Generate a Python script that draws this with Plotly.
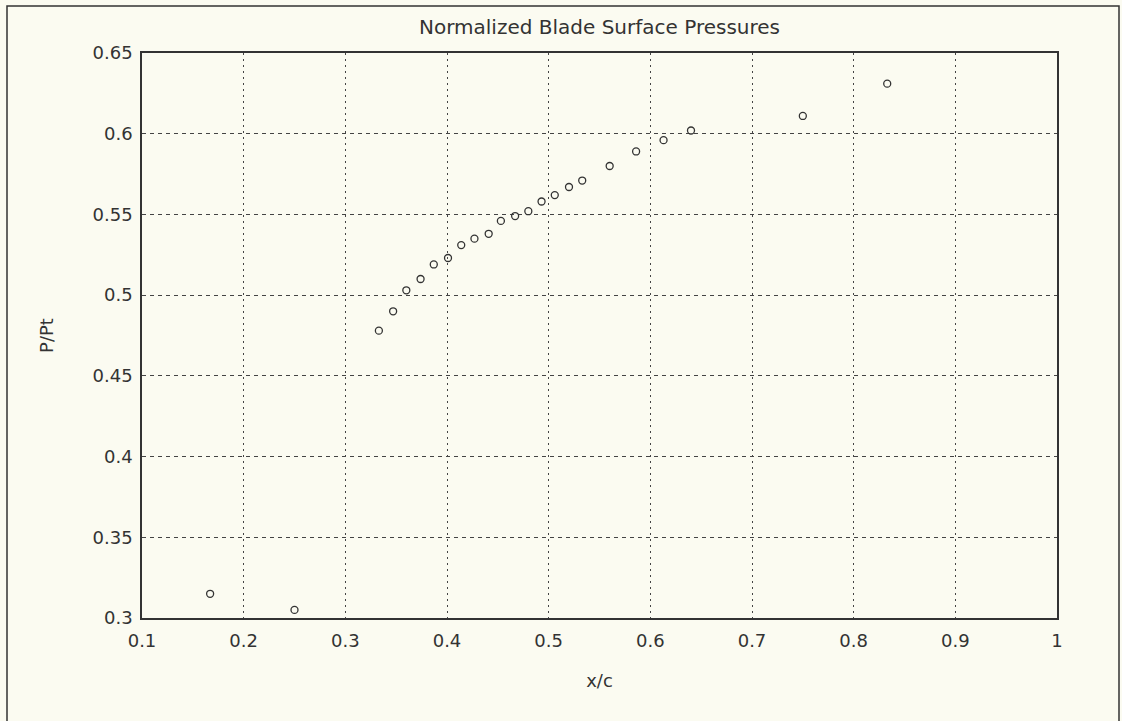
import plotly.graph_objects as go

# Data
x_c = [0.167, 0.250, 0.333, 0.347, 0.360, 0.374, 0.387, 0.401, 0.414, 0.427,
       0.441, 0.453, 0.467, 0.480, 0.493, 0.506, 0.520, 0.533, 0.560, 0.586,
       0.613, 0.640, 0.750, 0.833]
p_pt = [0.315, 0.305, 0.478, 0.490, 0.503, 0.510, 0.519, 0.523, 0.531, 0.535,
        0.538, 0.546, 0.549, 0.552, 0.558, 0.562, 0.567, 0.571, 0.580, 0.589,
        0.596, 0.602, 0.611, 0.631]

x_ticks = [0.1, 0.2, 0.3, 0.4, 0.5, 0.6, 0.7, 0.8, 0.9, 1.0]
x_tick_labels = ["0.1", "0.2", "0.3", "0.4", "0.5", "0.6", "0.7", "0.8", "0.9", "1"]
y_ticks = [0.3, 0.35, 0.4, 0.45, 0.5, 0.55, 0.6, 0.65]
y_tick_labels = ["0.3", "0.35", "0.4", "0.45", "0.5", "0.55", "0.6", "0.65"]

BG = "#fbfbf1"
INK = "#333333"
FONT = "DejaVu Sans"

W, H = 1122, 721
L, R, T, B = 142, 65, 53, 103

fig = go.Figure()
fig.add_trace(go.Scatter(
    x=x_c, y=p_pt, mode="markers",
    marker=dict(symbol="circle-open", size=7, color=INK, line=dict(width=1.3, color=INK)),
    showlegend=False, hoverinfo="x+y",
))

pw = W - L - R
ph = H - T - B

def px_to_paper_x(px):
    return (px - L) / pw

def px_to_paper_y(py):
    return (H - B - py) / ph

fig.update_layout(
    width=W, height=H,
    margin=dict(l=L, r=R, t=T, b=B, autoexpand=False),
    paper_bgcolor=BG, plot_bgcolor=BG,
    font=dict(family=FONT, size=18, color=INK),
    title=dict(text="Normalized Blade Surface Pressures", x=0.5, xref="paper",
               xanchor="center", y=1 - 27 / H, yanchor="middle",
               font=dict(family=FONT, size=20, color=INK)),
    xaxis=dict(
        range=[0.1, 1.0], tickvals=x_ticks, ticktext=x_tick_labels,
        showline=True, mirror=True, linecolor=INK, linewidth=1.5,
        showgrid=True, gridcolor="#444444", gridwidth=1, griddash="2px,4px",
        zeroline=False, ticks="", ticklabelstandoff=6,
        title=dict(text="x/c", standoff=24, font=dict(size=18)),
    ),
    yaxis=dict(
        range=[0.3, 0.65], tickvals=y_ticks, ticktext=y_tick_labels,
        showline=True, mirror=True, linecolor=INK, linewidth=1.5,
        showgrid=True, gridcolor="#444444", gridwidth=1, griddash="4px,4px",
        zeroline=False, ticks="", ticklabelstandoff=4,
        title=dict(text="P/Pt", standoff=34, font=dict(size=18)),
    ),
)

# Outer frame around the whole figure
fig.add_shape(type="rect", xref="paper", yref="paper",
              x0=px_to_paper_x(7), x1=px_to_paper_x(1119),
              y0=px_to_paper_y(730), y1=px_to_paper_y(6),
              line=dict(color=INK, width=1.5), fillcolor="rgba(0,0,0,0)", layer="below")

fig.write_html("out.html")
